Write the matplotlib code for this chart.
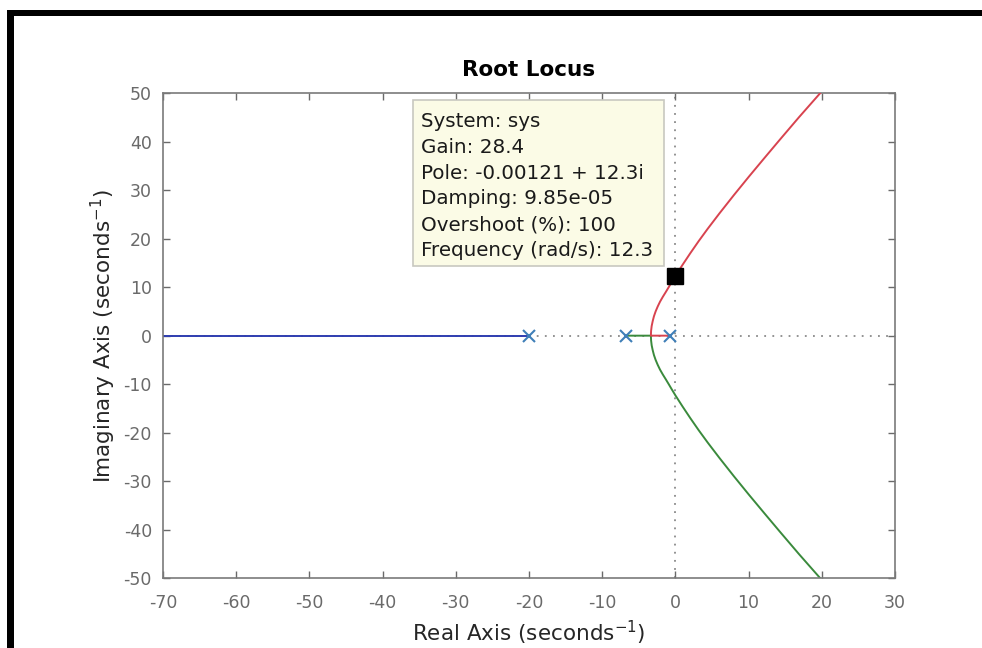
import matplotlib
matplotlib.use("Agg")
import matplotlib.pyplot as plt
from matplotlib.patches import Rectangle

# open-loop poles
pole_re = [-0.72, -6.7, -20.0]
pole_im = [0, 0, 0]

# branch going up (red): real axis part then complex part
red_re = [-0.72, -3.35, -3.32, -3.24, -3.1, -2.93, -2.7, -2.42, -2.1, -1.72, -1.31, -0.91, -0.52,
          0.0, 0.98, 2.04, 3.19, 4.40, 6.02, 8.01, 10.06, 12.16, 14.28, 16.88, 19.8]
red_im = [0, 0, 1, 2, 3, 4, 5, 6, 7, 8, 9, 10, 11,
          12.3, 14.6, 17, 19.5, 22, 25.2, 29, 32.8, 36.6, 40.4, 45, 50]

# branch going down (green)
green_re = [-6.7, -3.35, -3.32, -3.24, -3.1, -2.93, -2.7, -2.42, -2.1, -1.72, -1.31, -0.91, -0.52,
            0.0, 0.98, 2.04, 3.19, 4.40, 6.02, 8.01, 10.06, 12.16, 14.28, 16.88, 19.8]
green_im = [0, 0, -1, -2, -3, -4, -5, -6, -7, -8, -9, -10, -11,
            -12.3, -14.6, -17, -19.5, -22, -25.2, -29, -32.8, -36.6, -40.4, -45, -50]

# branch along negative real axis (blue)
blue_re = [-20.0, -70.0]
blue_im = [0, 0]

# selected point for the data tip
sel_re = [-0.00121]
sel_im = [12.3]

tip_lines = ["System: sys", "Gain: 28.4", "Pole: -0.00121 + 12.3i",
             "Damping: 9.85e-05", "Overshoot (%): 100", "Frequency (rad/s): 12.3"]

xticks = [-70, -60, -50, -40, -30, -20, -10, 0, 10, 20, 30]
yticks = [-50, -40, -30, -20, -10, 0, 10, 20, 30, 40, 50]

tick_gray = "#6a6a6a"

fig = plt.figure(figsize=(9.82, 6.48), dpi=100)
ax = fig.add_axes([0.166, 0.1075, 0.7454, 0.749])

ax.axhline(0, color="#8a8a8a", lw=1.3, ls=(0, (1, 3.5)), zorder=1)
ax.axvline(0, color="#8a8a8a", lw=1.3, ls=(0, (1, 3.5)), zorder=1)

ax.plot(blue_re, blue_im, color="#2f3db0", lw=1.4, zorder=2)
ax.plot(green_re, green_im, color="#3a8a3c", lw=1.4, zorder=2)
ax.plot(red_re, red_im, color="#d8434f", lw=1.4, zorder=3)
ax.plot(pole_re, pole_im, ls="none", marker="x", ms=9, mew=1.5, color="#3f7fb8", zorder=4)
ax.plot(sel_re, sel_im, ls="none", marker="s", ms=11.5, color="black", zorder=5)

ax.set_xlim(-70, 30)
ax.set_ylim(-50, 50)
ax.set_xticks(xticks)
ax.set_yticks(yticks)
ax.tick_params(direction="in", top=True, right=True, length=5, width=1,
               color=tick_gray, labelcolor=tick_gray, labelsize=12.5)
ax.tick_params(axis="x", pad=11)
ax.tick_params(axis="y", pad=8)
ax.set_xticklabels([str(t) for t in xticks])
ax.set_yticklabels([str(t) for t in yticks])
for sp in ax.spines.values():
    sp.set_color("#7a7a7a")
    sp.set_linewidth(1.2)

ax.set_title("Root Locus", fontsize=15.5, fontweight="bold", pad=12)
ax.set_xlabel("Real Axis (seconds$^{-1}$)", fontsize=15.5, color="#262626", labelpad=5)
ax.set_ylabel("Imaginary Axis (seconds$^{-1}$)", fontsize=15.5, color="#262626", labelpad=4)

# data tip box
ax.add_patch(Rectangle((0.341, 0.6435), 0.344, 0.342, transform=ax.transAxes,
                       facecolor="#fbfbe6", edgecolor="#c8c8c0", lw=1.2, zorder=6))
for i, line in enumerate(tip_lines):
    ax.text(0.353, 0.941 - i * 0.053, line, transform=ax.transAxes, fontsize=14.3,
            color="#1a1a1a", va="center", ha="left", zorder=7)

# black frame at top and left
fig.add_artist(Rectangle((7 / 982, 1 - 16 / 648), 1, 6 / 648, transform=fig.transFigure,
                         facecolor="black", edgecolor="none"))
fig.add_artist(Rectangle((7 / 982, 0), 7 / 982, 1 - 10 / 648, transform=fig.transFigure,
                         facecolor="black", edgecolor="none"))

fig.savefig("out.png", dpi=100)
